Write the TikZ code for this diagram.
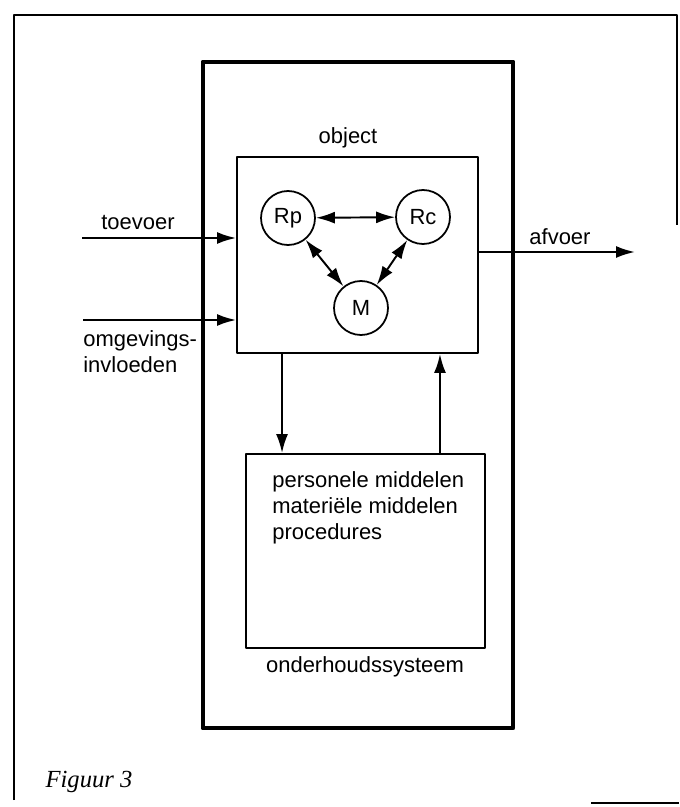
\documentclass[tikz,border=0pt]{standalone}
\usepackage{fontspec}
\setmainfont{Liberation Sans}
\newfontfamily\figfont{Liberation Serif}
\usetikzlibrary{arrows.meta}

\begin{document}
\begin{tikzpicture}[x=0.02cm, y=-0.02cm, >={Latex[length=3.8mm,width=2.4mm]}, font=\fontsize{12.5}{15}\selectfont, line join=round]
	\tikzset{kader/.style={draw, line width=1.1pt, inner sep=0pt},
	cirkel/.style={draw, circle, line width=1pt, minimum size=1.08cm, inner sep=0pt},
	pijl/.style={->, line width=1.2pt},
	tweepijl/.style={<->, line width=1.1pt}}
	\useasboundingbox (0,0) rectangle (679,807);
	% paginakader
	\draw[line width=0.8pt] (14,800) -- (14,15) -- (677,15) -- (677,225);
	\draw[line width=1pt] (591,803) -- (679,803);
	% systeemgrens
	\draw[line width=2.8pt] (203,62) rectangle (513,728);
	%
	\node[kader, minimum width=4.82cm, minimum height=3.92cm] (object) at (357.5,255) {};
	\node (objlabel) at (348,138) {object};
	\node[cirkel] (Rp) at (288,218) {Rp};
	\node[cirkel] (Rc) at (423,217) {Rc};
	\node[cirkel] (M) at (361,308) {M};
	\draw[tweepijl] (Rp) -- (Rc);
	\draw[tweepijl] (Rp) -- (M);
	\draw[tweepijl] (Rc) -- (M);
	%
	\node[kader, minimum width=4.78cm, minimum height=3.88cm] (ohs) at (365.5,551) {};
	\node[anchor=north west, align=left, inner sep=0pt] (middelen) at (272,471)
	{personele middelen\\materiële middelen\\procedures};
	\node (ohslabel) at (365,667) {onderhoudssysteem};
	\draw[pijl] ([xshift=-1.51cm]object.south) -- ([xshift=-1.51cm]object.south |- ohs.north);
	\draw[pijl] ([xshift=1.65cm]object.south |- ohs.north) -- ([xshift=1.65cm]object.south);
	%
	\coordinate (toe) at (82,238);
	\coordinate (omg) at (83,320);
	\coordinate (af) at (635,252);
	\draw[pijl] (toe) -- (toe -| object.west);
	\draw[pijl] (omg) -- (omg -| object.west);
	\draw[pijl] (af -| object.east) -- (af);
	\node (toevoer) at (138,223) {toevoer};
	\node (afvoer) at (560,237) {afvoer};
	\node[anchor=north west, align=left, inner sep=0pt] (omgevings) at (83,330) {omgevings-\\invloeden};
	%
	\node[font=\figfont\itshape\fontsize{14}{16}\selectfont] (figuur) at (89,782) {Figuur 3};
\end{tikzpicture}
\end{document}
